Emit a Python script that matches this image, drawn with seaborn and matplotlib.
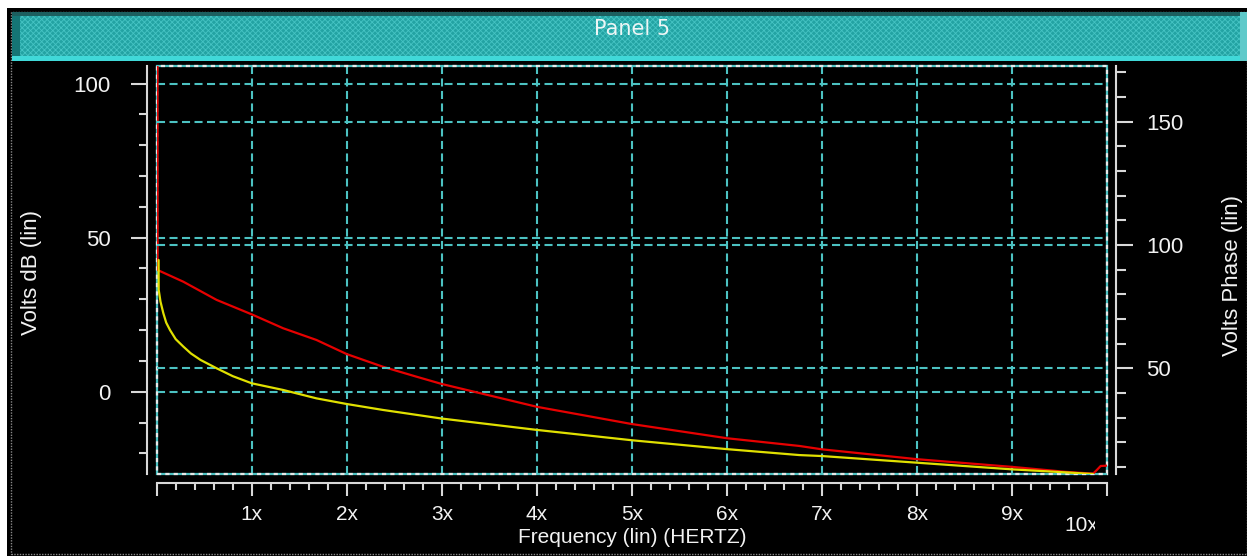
import matplotlib
matplotlib.use("Agg")
import matplotlib.pyplot as plt
import seaborn as sns
import matplotlib.transforms as mtransforms
from matplotlib.patches import Rectangle
from matplotlib.ticker import FixedLocator, MultipleLocator

# ---------------- data ----------------
freq_db = [0.008, 0.009, 0.28, 0.63, 1.0, 1.33, 1.68, 2.0, 2.38, 2.73, 3.0, 4.0,
           5.0, 6.0, 6.76, 7.0, 8.0, 9.0, 9.56, 9.85, 9.89, 9.93, 10.0]
volts_db = [120, 39.5, 35.7, 29.8, 25.1, 20.6, 16.8, 12.2, 8.1, 4.9, 2.5, -4.9,
            -10.5, -15.1, -17.6, -18.7, -21.9, -24.4, -26.0, -26.6, -25.4, -24.1, -24.0]

freq_ph = [0.02, 0.021, 0.04, 0.07, 0.10, 0.14, 0.20, 0.28, 0.36, 0.46, 0.63, 0.8,
           1.0, 1.33, 1.68, 2.0, 2.38, 3.0, 4.0, 5.0, 6.0, 6.76, 7.0, 8.0, 9.0,
           9.6, 9.85]
volts_phase = [93.9, 81.8, 77.0, 72.3, 68.5, 65.5, 61.8, 58.8, 56.0, 53.4, 50.0, 46.8,
               43.9, 41.2, 37.8, 35.5, 33.1, 29.6, 25.0, 20.8, 17.2, 14.8, 14.4, 11.7,
               9.0, 7.7, 7.1]

x_ticks = [0, 1, 2, 3, 4, 5, 6, 7, 8, 9, 10]
x_tick_labels = ["", "1x", "2x", "3x", "4x", "5x", "6x", "7x", "8x", "9x", "10x"]
db_ticks = [0, 50, 100]
phase_ticks = [50, 100, 150]

title_text = "Panel 5"
x_label = "Frequency (lin) (HERTZ)"
y_label_left = "Volts dB (lin)"
y_label_right = "Volts Phase (lin)"

# ---------------- style ----------------
sns.set_theme(style="dark")
plt.rcParams["font.family"] = ["Liberation Sans", "DejaVu Sans"]
plt.rcParams["lines.scale_dashes"] = False
plt.rcParams["hatch.linewidth"] = 0.6

W, H = 1247, 558
fig = plt.figure(figsize=(W / 100, H / 100), dpi=100, facecolor="white")

def fx(x):
    return x / W

def fy(y):
    return 1 - y / H

# background panels
fig.patches.append(Rectangle((fx(7), fy(556)), fx(W - 7), fy(8) - fy(556),
                             transform=fig.transFigure, facecolor="black",
                             edgecolor="none", zorder=-5))
fig.patches.append(Rectangle((fx(11), fy(554)), fx(W - 11), fy(12) - fy(554),
                             transform=fig.transFigure, facecolor="none",
                             edgecolor="#8a8a8a", lw=1, ls=(0, (1, 1)), zorder=-4))
# header bar
fig.patches.append(Rectangle((fx(12), fy(61)), fx(1240 - 12), fy(12) - fy(61),
                             transform=fig.transFigure, facecolor="#23a3a3",
                             edgecolor="#46c4c4", hatch="xxxxxx", lw=0, zorder=-3))
fig.patches.append(Rectangle((fx(12), fy(61)), fx(8), fy(12) - fy(61),
                             transform=fig.transFigure, facecolor="#157575",
                             edgecolor="none", zorder=-2))
fig.patches.append(Rectangle((fx(12), fy(16)), fx(1240 - 12), fy(12) - fy(16),
                             transform=fig.transFigure, facecolor="#1c5f5f",
                             edgecolor="none", zorder=-2))
fig.patches.append(Rectangle((fx(12), fy(61)), fx(1240 - 12), fy(56) - fy(61),
                             transform=fig.transFigure, facecolor="#40d8d8",
                             edgecolor="none", zorder=-2))
fig.patches.append(Rectangle((fx(1240), fy(61)), fx(7), fy(12) - fy(61),
                             transform=fig.transFigure, facecolor="#5fcaca",
                             edgecolor="none", zorder=-2))
fig.text(fx(632), fy(29), title_text, color="#eef6f6", fontsize=15,
         family=["DejaVu Sans"], ha="center", va="center", zorder=3)

# ---------------- axes ----------------
left, right, top, bottom = 156.7, 1107.3, 65.7, 474.3
ax = fig.add_axes([fx(left), fy(bottom), fx(right - left), fy(top) - fy(bottom)])
ax.set_facecolor("black")
ax2 = ax.twinx()
ax2.patch.set_visible(False)

grid_color = "#4cc2c2"
axis_color = "#d9d9d9"
text_color = "#f2f2f2"

sns.lineplot(x=freq_db, y=volts_db, ax=ax, color="#e60000", lw=1.6,
             sort=False, estimator=None, zorder=3)
sns.lineplot(x=freq_ph, y=volts_phase, ax=ax2, color="#e0e000", lw=1.6,
             sort=False, estimator=None, zorder=3)

ax.set_xlim(0, 10)
ax.set_ylim(-26.8, 105.8)
ax2.set_ylim(7.0, 172.7)

# ticks
ax.xaxis.set_major_locator(FixedLocator(x_ticks))
ax.set_xticklabels(x_tick_labels)
ax.xaxis.set_minor_locator(MultipleLocator(0.2))
ax.yaxis.set_major_locator(FixedLocator(db_ticks))
ax.yaxis.set_minor_locator(MultipleLocator(10))
ax2.yaxis.set_major_locator(FixedLocator(phase_ticks))
ax2.yaxis.set_minor_locator(MultipleLocator(10))

ax.tick_params(axis="x", which="major", direction="out", length=9, width=1.5,
               color=axis_color, labelcolor=text_color, labelsize=15, pad=7,
               bottom=True)
ax.tick_params(axis="x", which="minor", direction="out", length=5.3, width=1.5,
               color=axis_color, bottom=True)
ax.tick_params(axis="y", which="major", direction="out", length=11.5, width=1.5,
               color=axis_color, labelcolor=text_color, labelsize=16, pad=14.5,
               left=True)
ax.tick_params(axis="y", which="minor", direction="out", length=5.8, width=1.5,
               color=axis_color, left=True)
ax2.tick_params(axis="y", which="major", direction="out", length=12, width=1.5,
                color=axis_color, labelcolor=text_color, labelsize=16, pad=10,
                right=True)
ax2.tick_params(axis="y", which="minor", direction="out", length=7, width=1.5,
                color=axis_color, right=True)

# spines
for s in ["top", "right"]:
    ax.spines[s].set_visible(False)
for s in ["top", "left", "bottom"]:
    ax2.spines[s].set_visible(False)
ax.spines["left"].set_position(("outward", 7))
ax.spines["bottom"].set_position(("outward", 6))
ax2.spines["right"].set_position(("outward", 6))
for sp in [ax.spines["left"], ax.spines["bottom"], ax2.spines["right"]]:
    sp.set_color(axis_color)
    sp.set_linewidth(1.5)

# grid
grid_kw = dict(color=grid_color, lw=1.5, ls=(0, (5.8, 3.2)))
ax.grid(axis="x", which="major", **grid_kw)
ax.grid(axis="y", which="major", **grid_kw)
ax.grid(axis="x", which="minor", visible=False)
ax.grid(axis="y", which="minor", visible=False)
ax2.grid(axis="y", which="major", **grid_kw)
ax2.grid(axis="x", visible=False)
ax2.grid(axis="y", which="minor", visible=False)
ax.set_axisbelow(True)
ax2.set_axisbelow(True)

# plot frame (cyan/white dashed), drawn below the curves
ax.add_patch(Rectangle((0, 0), 1, 1, transform=ax.transAxes, fill=False,
                       edgecolor=grid_color, lw=1.6, clip_on=False, zorder=1.5))
ax.add_patch(Rectangle((0, 0), 1, 1, transform=ax.transAxes, fill=False,
                       edgecolor="#e8e8e8", lw=1.6, ls=(0, (3, 3)),
                       clip_on=False, zorder=1.6))

# labels
ax.set_xlabel(x_label, color=text_color, fontsize=15)
ax.xaxis.set_label_coords(0.5, -0.1535)
ax.xaxis.label.set_va("center")
ax.set_ylabel(y_label_left, color=text_color, fontsize=16)
ax.yaxis.set_label_coords(-0.1312, 0.495)
ax.yaxis.label.set_va("center")
ax2.set_ylabel(y_label_right, color=text_color, fontsize=16, rotation=90)
ax2.yaxis.set_label_coords(1.1322, 0.486)
ax2.yaxis.label.set_va("center")

# shift / clip the last tick label like the reference
last = ax.xaxis.get_major_ticks()[-1].label1
off = mtransforms.ScaledTranslation(-26 / 100, -11 / 100, fig.dpi_scale_trans)
last.set_transform(last.get_transform() + off)
clip = mtransforms.TransformedBbox(mtransforms.Bbox([[0, 0], [1095 / W, 1]]),
                                   fig.transFigure)
last.set_clip_box(clip)
last.set_clip_on(True)

fig.savefig("out.png", dpi=100, facecolor="white")
